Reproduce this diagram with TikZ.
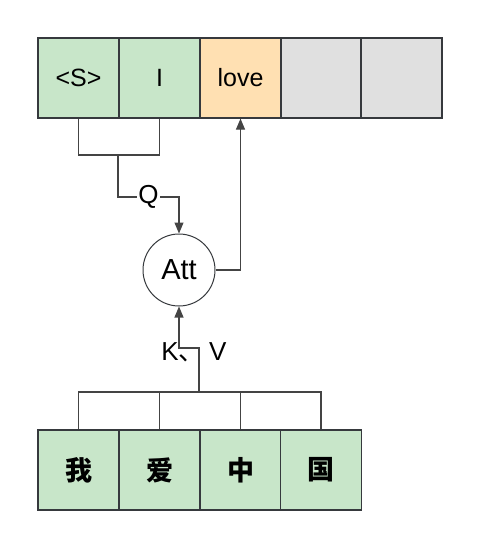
\documentclass[tikz,border=0pt]{standalone}
\usepackage{fontspec}
\setmainfont{Liberation Sans}
\newfontfamily\cjk{Noto Sans CJK SC}
\usetikzlibrary{arrows.meta}
\definecolor{boxline}{HTML}{36393D}
\definecolor{edge}{HTML}{444444}
\definecolor{greenbox}{HTML}{C8E6C9}
\definecolor{orangebox}{HTML}{FFE0B2}
\definecolor{greybox}{HTML}{E0E0E0}
\begin{document}
\begin{tikzpicture}[
    x=1pt, y=-1pt,
    tok/.style={draw=boxline, line width=1.2pt, minimum width=81pt, minimum height=80pt, inner sep=0pt, font=\fontsize{25}{28}\selectfont},
    src/.style={tok, fill=greenbox, font=\cjk\bfseries\fontsize{27}{30}\selectfont},
    wire/.style={draw=edge, line width=1.2pt},
    arr/.style={wire, -{Triangle[length=11pt,width=9pt]}},
    lbl/.style={fill=white, inner sep=1pt, font=\fontsize{26}{29}\selectfont}
    ]
\useasboundingbox (0,0) rectangle (480,549);

% decoder outputs
\node[tok, fill=greenbox] (s) at (78.5,78) {<S>};
\node[tok, fill=greenbox] (i) at (159.5,78) {I};
\node[tok, fill=orangebox] (love) at (240.5,78) {love};
\node[tok, fill=greybox] (e1) at (321.5,78) {};
\node[tok, fill=greybox] (e2) at (401.5,78) {};

% encoder inputs
\node[src] (wo) at (78.5,470) {我};
\node[src] (ai) at (159.5,470) {爱};
\node[src] (zhong) at (240.5,470) {中};
\node[src] (guo) at (321,470) {国};

% attention
\node[draw=boxline, line width=1pt, circle, fill=white, minimum size=72pt, inner sep=0pt, font=\fontsize{29}{32}\selectfont] (att) at (179,270) {Att};

\coordinate (qj) at (118,155);
\coordinate (qk) at (179,197);
\draw[wire] (s.south) |- (qj) -| (i.south);
\draw[arr] (qj) |- node[lbl, pos=0.75] {Q} (qk) -- (att.north);
\draw[arr] (att.east) -| (love.south);

\coordinate (kv) at (199,392);
\coordinate (kk) at (199,348);
\coordinate (kl) at (179,348);
\draw[wire] (wo.north) |- (kv) -| (guo.north);
\draw[wire] (ai.north) -- (ai.north |- kv);
\draw[wire] (zhong.north) -- (zhong.north |- kv);
\draw[arr] (kv) -- (kk) -- (kl) -- (att.south);
\node[font=\fontsize{26}{29}\selectfont, inner sep=0pt] (kvlab) at (194,352) {K{\cjk 、}\,V};
\end{tikzpicture}
\end{document}
